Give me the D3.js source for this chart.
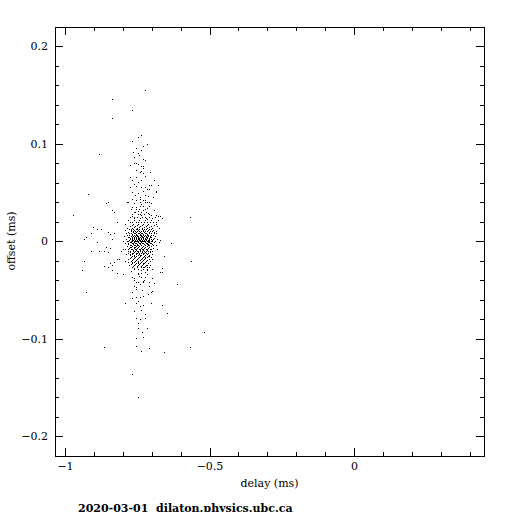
<!doctype html>
<html lang="en">
<head>
  <meta charset="utf-8">
  <title>delay vs offset</title>
  <script src="https://d3js.org/d3.v7.min.js"></script>
  <style>
    body { margin: 0; background: #fff; }
    svg { display: block; font-family: "DejaVu Serif", serif; }
    .tick text { font-size: 11px; fill: #000; }
    .tick line { stroke: #000; shape-rendering: crispEdges; }
    .lbl { font-size: 11px; fill: #000; }
  </style>
</head>
<body>
<svg id="chart" width="512" height="512"></svg>
<script>
  // axis ticks and labels
  var xMajor = [-1, -0.5, 0];
  var xLabels = ["\u22121", "\u22120.5", "0"];
  var xMinor = [-1, -0.9, -0.8, -0.7, -0.6, -0.5, -0.4, -0.3, -0.2, -0.1, 0, 0.1, 0.2, 0.3, 0.4];
  var yMajor = [-0.2, -0.1, 0, 0.1, 0.2];
  var yLabels = ["\u22120.2", "\u22120.1", "0", "0.1", "0.2"];
  var yMinor = [-0.2, -0.18, -0.16, -0.14, -0.12, -0.1, -0.08, -0.06, -0.04, -0.02, 0,
                0.02, 0.04, 0.06, 0.08, 0.1, 0.12, 0.14, 0.16, 0.18, 0.2];

  // [delay, offset] in ms
  var outliers = [
    [-0.723, 0.154], [-0.834, 0.145], [-0.765, 0.134], [-0.834, 0.126], [-0.879, 0.089],
    [-0.972, 0.026], [-0.920, 0.048], [-0.567, 0.024], [-0.561, -0.021], [-0.519, -0.094],
    [-0.567, -0.109], [-0.862, -0.109], [-0.765, -0.137], [-0.747, -0.161], [-0.924, -0.053],
    [-0.612, -0.045], [-0.941, -0.030], [-0.934, -0.021], [-0.668, -0.032]
  ];

  var upperColumn = [
    [-0.734, 0.108], [-0.768, 0.102], [-0.727, 0.097], [-0.754, 0.095], [-0.734, 0.093],
    [-0.747, 0.090], [-0.772, 0.077], [-0.754, 0.080], [-0.734, 0.076], [-0.727, 0.074],
    [-0.751, 0.072], [-0.740, 0.070], [-0.727, 0.069], [-0.772, 0.065], [-0.765, 0.062],
    [-0.751, 0.065], [-0.734, 0.062], [-0.758, 0.058], [-0.751, 0.056], [-0.720, 0.055],
    [-0.706, 0.057], [-0.716, 0.053], [-0.709, 0.053], [-0.678, 0.057], [-0.765, 0.050],
    [-0.747, 0.049], [-0.730, 0.051], [-0.723, 0.047], [-0.682, 0.051], [-0.751, 0.042],
    [-0.740, 0.043], [-0.720, 0.042], [-0.709, 0.039], [-0.758, 0.038], [-0.734, 0.037],
    [-0.785, 0.039], [-0.751, 0.034], [-0.740, 0.035], [-0.716, 0.033], [-0.706, 0.035],
    [-0.692, 0.031], [-0.685, 0.026], [-0.678, 0.025], [-0.671, 0.025], [-0.664, 0.023],
    [-0.768, 0.025], [-0.761, 0.024], [-0.734, 0.026], [-0.720, 0.024], [-0.713, 0.022],
    [-0.699, 0.026], [-0.682, 0.019], [-0.758, 0.080], [-0.730, 0.076], [-0.723, 0.083],
    [-0.737, 0.071], [-0.775, 0.065], [-0.734, 0.055], [-0.699, 0.057], [-0.685, 0.050],
    [-0.765, 0.043], [-0.730, 0.042], [-0.716, 0.040], [-0.740, 0.039], [-0.723, 0.039],
    [-0.851, 0.039], [-0.782, 0.039], [-0.744, 0.106], [-0.716, 0.099], [-0.758, 0.086],
    [-0.703, 0.070], [-0.775, 0.055], [-0.695, 0.045], [-0.690, 0.062], [-0.745, 0.030],
    [-0.728, 0.031], [-0.760, 0.029], [-0.712, 0.028], [-0.738, 0.027], [-0.752, 0.032],
    [-0.741, 0.088], [-0.762, 0.091], [-0.729, 0.084], [-0.747, 0.078], [-0.722, 0.066],
    [-0.744, 0.060], [-0.757, 0.047], [-0.738, 0.045], [-0.712, 0.046], [-0.766, 0.034],
    [-0.700, 0.038], [-0.729, 0.035]
  ];

  var leftWing = [
    [-0.855, 0.038], [-0.837, 0.031], [-0.827, 0.029], [-0.820, 0.019], [-0.900, 0.014],
    [-0.889, 0.012], [-0.872, 0.012], [-0.907, 0.008], [-0.927, 0.004], [-0.931, 0.002],
    [-0.889, -0.002], [-0.851, 0.009], [-0.841, 0.007], [-0.834, 0.002], [-0.827, 0.008],
    [-0.858, -0.007], [-0.844, -0.008], [-0.907, -0.011], [-0.879, -0.011], [-0.862, -0.011],
    [-0.803, -0.011], [-0.799, -0.009], [-0.851, -0.012], [-0.862, -0.026], [-0.844, -0.023],
    [-0.848, -0.027], [-0.834, -0.030], [-0.817, -0.033], [-0.799, -0.034], [-0.827, -0.022],
    [-0.810, -0.019], [-0.792, -0.021], [-0.779, -0.022], [-0.820, -0.019], [-0.834, -0.025],
    [-0.657, -0.016], [-0.630, -0.003], [-0.668, 0.001], [-0.682, 0.010], [-0.661, -0.028],
    [-0.664, -0.032]
  ];

  var lowerColumn = [
    [-0.765, -0.037], [-0.758, -0.038], [-0.747, -0.034], [-0.734, -0.033], [-0.723, -0.037],
    [-0.716, -0.034], [-0.713, -0.030], [-0.730, -0.027], [-0.758, -0.028], [-0.751, -0.043],
    [-0.740, -0.045], [-0.727, -0.043], [-0.761, -0.047], [-0.751, -0.048], [-0.709, -0.043],
    [-0.692, -0.044], [-0.709, -0.047], [-0.699, -0.053], [-0.765, -0.053], [-0.765, -0.059],
    [-0.751, -0.058], [-0.740, -0.058], [-0.727, -0.057], [-0.754, -0.064], [-0.740, -0.067],
    [-0.737, -0.071], [-0.751, -0.079], [-0.740, -0.081], [-0.720, -0.079], [-0.716, -0.090],
    [-0.744, -0.090], [-0.730, -0.099], [-0.754, -0.108], [-0.734, -0.113], [-0.706, -0.110],
    [-0.657, -0.114], [-0.792, -0.064], [-0.664, -0.066], [-0.647, -0.074], [-0.699, -0.064],
    [-0.696, -0.052], [-0.696, -0.038], [-0.706, -0.027], [-0.696, -0.029], [-0.775, -0.014],
    [-0.758, -0.016], [-0.740, -0.015], [-0.723, -0.017], [-0.706, -0.016], [-0.696, -0.019],
    [-0.765, -0.022], [-0.747, -0.023], [-0.730, -0.023], [-0.713, -0.025], [-0.737, -0.030],
    [-0.723, -0.032], [-0.747, -0.033], [-0.734, -0.037], [-0.758, -0.040], [-0.730, -0.042],
    [-0.706, -0.043], [-0.744, -0.043], [-0.770, -0.031], [-0.742, -0.036], [-0.726, -0.040],
    [-0.754, -0.050], [-0.733, -0.051], [-0.712, -0.055], [-0.746, -0.062], [-0.728, -0.066],
    [-0.758, -0.072], [-0.723, -0.075], [-0.744, -0.085], [-0.733, -0.094], [-0.751, -0.100]
  ];

  // dense core, row by row: offset, then the delays seen on that row
  var coreRows = [
    [0.032, -0.769, -0.742, -0.723],
    [0.029, -0.756, -0.736, -0.719],
    [0.027, -0.765, -0.745, -0.726, -0.708],
    [0.024, -0.772, -0.748, -0.731, -0.709, -0.688],
    [0.0235, -0.760, -0.739, -0.719, -0.697],
    [0.021, -0.781, -0.760, -0.741, -0.722, -0.700, -0.676],
    [0.0195, -0.774, -0.745, -0.726, -0.705],
    [0.019, -0.768, -0.752, -0.735, -0.714, -0.693],
    [0.017, -0.789, -0.762, -0.744, -0.727, -0.711, -0.684],
    [0.016, -0.767, -0.750, -0.732, -0.714, -0.692],
    [0.015, -0.775, -0.756, -0.739, -0.719, -0.702, -0.681],
    [0.014, -0.760, -0.743, -0.724, -0.707],
    [0.013, -0.783, -0.766, -0.750, -0.733, -0.716, -0.697, -0.672],
    [0.012, -0.770, -0.753, -0.741, -0.725, -0.709],
    [0.0115, -0.776, -0.762, -0.748, -0.733, -0.718, -0.702],
    [0.011, -0.792, -0.771, -0.758, -0.745, -0.728, -0.712, -0.694],
    [0.010, -0.764, -0.749, -0.736, -0.720, -0.704],
    [0.0095, -0.771, -0.756, -0.742, -0.729, -0.713, -0.698],
    [0.009, -0.779, -0.763, -0.752, -0.738, -0.724, -0.707, -0.689],
    [0.008, -0.786, -0.769, -0.755, -0.742, -0.731, -0.717, -0.700, -0.683],
    [0.0075, -0.777, -0.760, -0.746, -0.734, -0.721, -0.706, -0.691],
    [0.007, -0.767, -0.751, -0.739, -0.727, -0.714],
    [0.006, -0.776, -0.761, -0.748, -0.736, -0.722, -0.711, -0.695],
    [0.0055, -0.783, -0.766, -0.753, -0.740, -0.729, -0.716, -0.701],
    [0.005, -0.795, -0.770, -0.757, -0.744, -0.733, -0.719, -0.704, -0.686],
    [0.0045, -0.763, -0.749, -0.737, -0.725, -0.712],
    [0.004, -0.781, -0.765, -0.751, -0.740, -0.727, -0.714, -0.699],
    [0.0035, -0.777, -0.761, -0.747, -0.732, -0.719, -0.705],
    [0.003, -0.773, -0.759, -0.746, -0.735, -0.723, -0.708, -0.690],
    [0.0025, -0.768, -0.752, -0.741, -0.729, -0.716],
    [0.002, -0.788, -0.767, -0.754, -0.742, -0.730, -0.717, -0.702, -0.679],
    [0.0015, -0.773, -0.758, -0.744, -0.734, -0.721, -0.709, -0.693],
    [0.001, -0.778, -0.762, -0.749, -0.738, -0.725, -0.712, -0.696],
    [0.0005, -0.766, -0.755, -0.743, -0.731, -0.719, -0.707],
    [0.000, -0.799, -0.771, -0.757, -0.745, -0.733, -0.720, -0.706, -0.688],
    [-0.0005, -0.779, -0.761, -0.749, -0.737, -0.724, -0.711, -0.697],
    [-0.001, -0.783, -0.765, -0.752, -0.740, -0.728, -0.715, -0.700],
    [-0.0015, -0.770, -0.758, -0.746, -0.734, -0.722, -0.710],
    [-0.002, -0.775, -0.760, -0.747, -0.736, -0.723, -0.709, -0.692, -0.674],
    [-0.0025, -0.782, -0.764, -0.751, -0.739, -0.727, -0.714, -0.700],
    [-0.003, -0.790, -0.768, -0.755, -0.743, -0.731, -0.718, -0.703],
    [-0.0035, -0.762, -0.749, -0.738, -0.726, -0.713],
    [-0.004, -0.779, -0.763, -0.750, -0.738, -0.726, -0.712, -0.697],
    [-0.0045, -0.775, -0.760, -0.748, -0.735, -0.723, -0.710, -0.695],
    [-0.005, -0.771, -0.757, -0.745, -0.734, -0.721, -0.707, -0.685],
    [-0.006, -0.785, -0.766, -0.753, -0.741, -0.729, -0.716, -0.701],
    [-0.0065, -0.772, -0.759, -0.746, -0.733, -0.722, -0.709],
    [-0.007, -0.769, -0.756, -0.744, -0.732, -0.720, -0.706],
    [-0.008, -0.776, -0.760, -0.748, -0.736, -0.724, -0.710, -0.693],
    [-0.0085, -0.780, -0.765, -0.752, -0.739, -0.728, -0.715, -0.700],
    [-0.009, -0.792, -0.769, -0.755, -0.743, -0.731, -0.718, -0.704, -0.680],
    [-0.010, -0.764, -0.751, -0.740, -0.727, -0.714],
    [-0.0105, -0.773, -0.756, -0.744, -0.731, -0.718, -0.703],
    [-0.011, -0.780, -0.763, -0.750, -0.738, -0.726, -0.712, -0.696],
    [-0.012, -0.772, -0.758, -0.746, -0.733, -0.720, -0.705],
    [-0.0125, -0.779, -0.762, -0.749, -0.737, -0.724, -0.710],
    [-0.013, -0.767, -0.754, -0.742, -0.729, -0.717],
    [-0.014, -0.786, -0.766, -0.753, -0.741, -0.728, -0.714, -0.698],
    [-0.015, -0.775, -0.760, -0.747, -0.735, -0.722, -0.708],
    [-0.016, -0.765, -0.751, -0.739, -0.726, -0.712],
    [-0.017, -0.769, -0.755, -0.743, -0.730, -0.716, -0.700],
    [-0.018, -0.772, -0.758, -0.746, -0.733, -0.720],
    [-0.019, -0.781, -0.762, -0.750, -0.737, -0.724, -0.709],
    [-0.020, -0.766, -0.752, -0.740, -0.728, -0.714],
    [-0.021, -0.771, -0.757, -0.745, -0.732, -0.718, -0.703],
    [-0.022, -0.760, -0.747, -0.735, -0.721],
    [-0.023, -0.765, -0.752, -0.739, -0.726, -0.711],
    [-0.024, -0.770, -0.755, -0.742, -0.729],
    [-0.025, -0.776, -0.758, -0.746, -0.733, -0.719, -0.705],
    [-0.026, -0.763, -0.749, -0.735, -0.720],
    [-0.027, -0.768, -0.750, -0.737, -0.724, -0.713],
    [-0.029, -0.761, -0.744, -0.730, -0.716]
  ];

  var core = [];
  coreRows.forEach(function(row) {
    for (var i = 1; i < row.length; i++) core.push([row[i], row[0]]);
  });
  var points = outliers.concat(upperColumn, leftWing, lowerColumn, core);

  var svg = d3.select("#chart");
  var plotLeft = 55, plotRight = 484, plotTop = 27, plotBottom = 456;

  var x = d3.scaleLinear().domain([-1.0346, 0.4498]).range([plotLeft, plotRight]);
  var y = d3.scaleLinear().domain([-0.2205, 0.2195]).range([plotBottom, plotTop]);

  // points, one pixel each
  svg.append("g").selectAll("rect")
    .data(points)
    .enter().append("rect")
    .attr("x", function(d) { return Math.floor(x(d[0])); })
    .attr("y", function(d) { return Math.floor(y(d[1])); })
    .attr("width", 1)
    .attr("height", 1)
    .attr("fill", "#000")
    .attr("shape-rendering", "crispEdges");

  function cleanup(g) { g.select(".domain").remove(); }

  // minor ticks on all four sides
  svg.append("g").attr("transform", "translate(0," + plotBottom + ")")
    .call(d3.axisBottom(x).tickValues(xMinor).tickSize(-4).tickFormat("")).call(cleanup);
  svg.append("g").attr("transform", "translate(0," + plotTop + ")")
    .call(d3.axisTop(x).tickValues(xMinor).tickSize(-4).tickFormat("")).call(cleanup);
  svg.append("g").attr("transform", "translate(" + plotLeft + ",0)")
    .call(d3.axisLeft(y).tickValues(yMinor).tickSize(-4).tickFormat("")).call(cleanup);
  svg.append("g").attr("transform", "translate(" + plotRight + ",0)")
    .call(d3.axisRight(y).tickValues(yMinor).tickSize(-4).tickFormat("")).call(cleanup);

  // major ticks, labelled bottom and left
  svg.append("g").attr("transform", "translate(0," + plotBottom + ")")
    .call(d3.axisBottom(x).tickValues(xMajor).tickSize(-8).tickPadding(6)
      .tickFormat(function(d, i) { return xLabels[i]; })).call(cleanup);
  svg.append("g").attr("transform", "translate(0," + plotTop + ")")
    .call(d3.axisTop(x).tickValues(xMajor).tickSize(-8).tickFormat("")).call(cleanup);
  svg.append("g").attr("transform", "translate(" + plotLeft + ",0)")
    .call(d3.axisLeft(y).tickValues(yMajor).tickSize(-8).tickPadding(7)
      .tickFormat(function(d, i) { return yLabels[i]; })).call(cleanup);
  svg.append("g").attr("transform", "translate(" + plotRight + ",0)")
    .call(d3.axisRight(y).tickValues(yMajor).tickSize(-8).tickFormat("")).call(cleanup);

  svg.selectAll(".tick text").attr("font-family", "DejaVu Serif, serif").attr("font-size", 11);

  // frame
  svg.append("rect")
    .attr("x", plotLeft + 0.5).attr("y", plotTop + 0.5)
    .attr("width", plotRight - plotLeft).attr("height", plotBottom - plotTop)
    .attr("fill", "none").attr("stroke", "#000").attr("stroke-width", 1);

  svg.append("text").attr("class", "lbl")
    .attr("x", (plotLeft + plotRight) / 2).attr("y", 487)
    .attr("text-anchor", "middle").text("delay (ms)");

  svg.append("text").attr("class", "lbl")
    .attr("transform", "translate(15," + y(0) + ") rotate(-90)")
    .attr("text-anchor", "middle").text("offset (ms)");

  // footer sits on the bottom edge, partly cut off as in the original
  svg.append("text").attr("class", "lbl")
    .attr("x", 78).attr("y", 512)
    .attr("font-size", 12).attr("font-weight", "bold")
    .style("white-space", "pre")
    .text("2020-03-01  dilaton.physics.ubc.ca");
</script>
</body>
</html>
